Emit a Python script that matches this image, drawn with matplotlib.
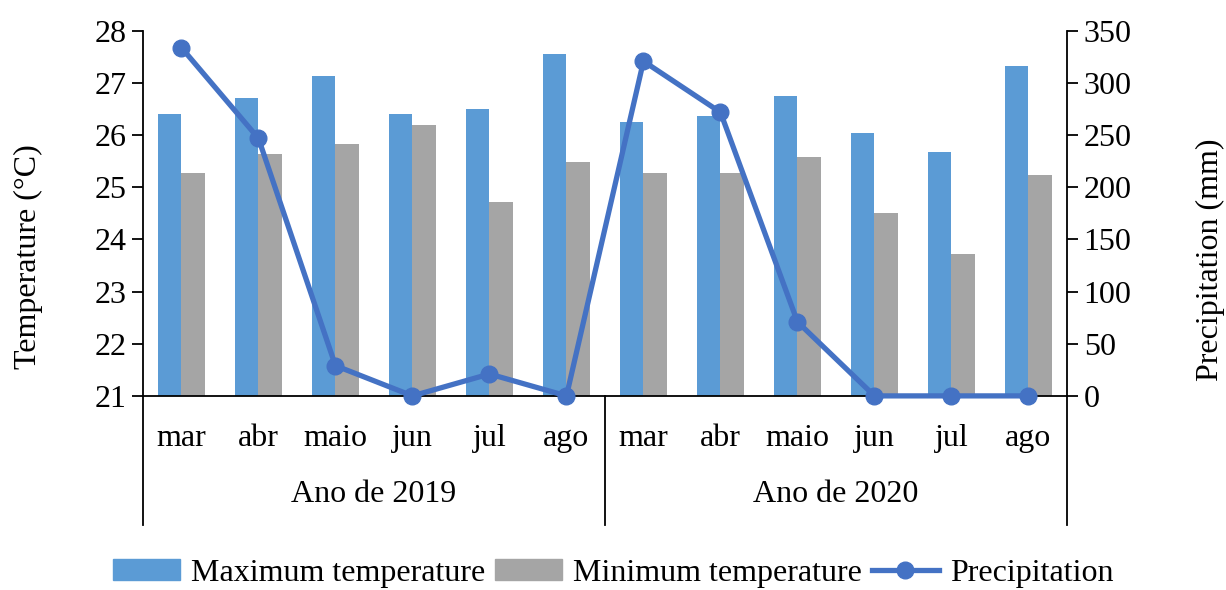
import numpy as np
import matplotlib.pyplot as plt
from matplotlib.patches import Patch
from matplotlib.lines import Line2D
import matplotlib.transforms as mtransforms

plt.rcParams['font.family'] = ['Liberation Serif', 'DejaVu Serif']

months = ["mar", "abr", "maio", "jun", "jul", "ago"] * 2
years = ["Ano de 2019", "Ano de 2020"]

t_max = [26.41, 26.72, 27.13, 26.41, 26.51, 27.55,
         26.25, 26.36, 26.76, 26.04, 25.68, 27.33]
t_min = [25.27, 25.64, 25.84, 26.20, 24.71, 25.48,
         25.27, 25.27, 25.58, 24.50, 23.72, 25.23]
precip = [334, 247, 29, 0, 21, 0,
          321, 272, 71, 0, 0, 0]

C_MAX = "#5B9BD5"
C_MIN = "#A5A5A5"
C_PRE = "#4472C4"
FS = 23

fig = plt.figure(figsize=(12.26, 5.9), dpi=100)
ax = fig.add_axes([0.1166, 0.329, 0.7537, 0.6185])
x = np.arange(len(months))
w = 0.3

base = 21
ax.bar(x - w / 2, np.array(t_max) - base, w, bottom=base, color=C_MAX)
ax.bar(x + w / 2, np.array(t_min) - base, w, bottom=base, color=C_MIN)
ax.set_ylim(21, 28)
ax.set_xlim(-0.5, len(months) - 0.5)
ax.set_yticks(range(21, 29))
ax.set_xticks(x)
ax.set_xticklabels(months)
ax.tick_params(axis='x', length=0, pad=20, labelsize=FS)
ax.tick_params(axis='y', direction='out', length=8, width=1.3, labelsize=FS, pad=4)
ax.spines['top'].set_visible(False)
ax.spines['right'].set_visible(False)
for s in ('left', 'bottom'):
    ax.spines[s].set_linewidth(1.3)

ax2 = ax.twinx()
ax2.plot(x, precip, color=C_PRE, lw=3.8, marker='o', ms=12, zorder=5, clip_on=False)
ax2.set_ylim(0, 350)
ax2.set_yticks(range(0, 351, 50))
ax2.tick_params(axis='y', direction='out', length=8, width=1.3, labelsize=FS, pad=4)
ax2.spines['top'].set_visible(False)
ax2.spines['left'].set_visible(False)
ax2.spines['bottom'].set_visible(False)
ax2.spines['right'].set_linewidth(1.3)

# year group separators and labels under the month ticks
trans = mtransforms.blended_transform_factory(ax.transData, ax.transAxes)
sep_bottom = -(525 - 396) / (396 - 31)
for xs in (-0.5, 5.5, 11.5):
    ax.add_line(Line2D([xs, xs], [0, sep_bottom], transform=trans,
                       color='black', lw=1.3, clip_on=False))
for i, yr in enumerate(years):
    ax.text(i * 6 + 2.5, -(495 - 396) / (396 - 31), yr, transform=trans,
            ha='center', va='center', fontsize=FS)

fig.text(28 / 1226, 1 - 257 / 590, "Temperature (°C)", rotation=90,
         ha='center', va='center', fontsize=FS)
fig.text(1210 / 1226, 1 - 260 / 590, "Precipitation (mm)", rotation=90,
         ha='center', va='center', fontsize=FS)

handles = [Patch(color=C_MAX), Patch(color=C_MIN),
           Line2D([], [], color=C_PRE, lw=3.8, marker='o', ms=12)]
labels = ["Maximum temperature", "Minimum temperature", "Precipitation"]
fig.legend(handles, labels, loc='center', bbox_to_anchor=(0.5, 1 - 573 / 590),
           ncol=3, frameon=False, fontsize=FS, handlelength=2.1,
           handletextpad=0.35, columnspacing=0.3, handleheight=0.65)

fig.savefig("out.png", dpi=100)
